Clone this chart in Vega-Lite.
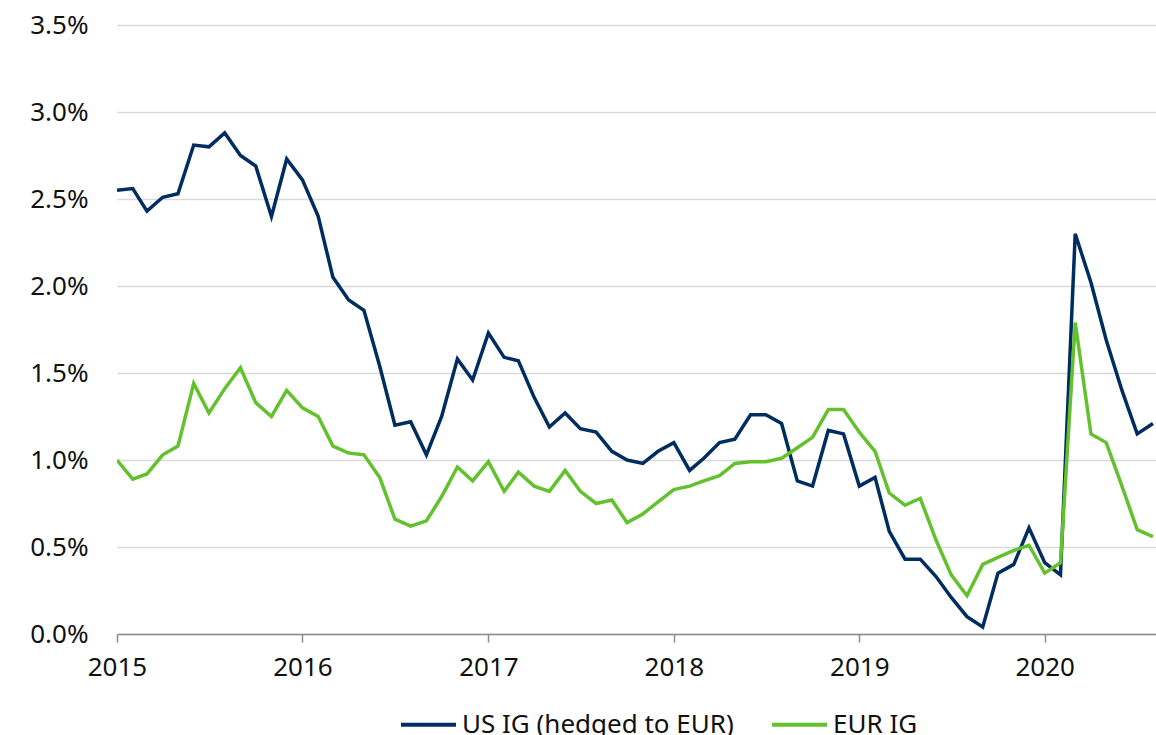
{
  "$schema": "https://vega.github.io/schema/vega-lite/v6.json",
  "width": 1039,
  "height": 609,
  "autosize": {"type": "none"},
  "padding": {"left": 117, "top": 25, "right": 0, "bottom": 101},
  "background": "white",
  "config": {
    "font": "Noto Sans",
    "view": {"stroke": null}
  },
  "datasets": {
    "series": [
      {"date": "2015-01-01", "us": 2.55, "eur": 1.00},
      {"date": "2015-02-01", "us": 2.56, "eur": 0.89},
      {"date": "2015-03-01", "us": 2.43, "eur": 0.92},
      {"date": "2015-04-01", "us": 2.51, "eur": 1.03},
      {"date": "2015-05-01", "us": 2.53, "eur": 1.08},
      {"date": "2015-06-01", "us": 2.81, "eur": 1.44},
      {"date": "2015-07-01", "us": 2.80, "eur": 1.27},
      {"date": "2015-08-01", "us": 2.88, "eur": 1.41},
      {"date": "2015-09-01", "us": 2.75, "eur": 1.53},
      {"date": "2015-10-01", "us": 2.69, "eur": 1.33},
      {"date": "2015-11-01", "us": 2.40, "eur": 1.25},
      {"date": "2015-12-01", "us": 2.73, "eur": 1.40},
      {"date": "2016-01-01", "us": 2.61, "eur": 1.30},
      {"date": "2016-02-01", "us": 2.40, "eur": 1.25},
      {"date": "2016-03-01", "us": 2.05, "eur": 1.08},
      {"date": "2016-04-01", "us": 1.92, "eur": 1.04},
      {"date": "2016-05-01", "us": 1.86, "eur": 1.03},
      {"date": "2016-06-01", "us": 1.54, "eur": 0.90},
      {"date": "2016-07-01", "us": 1.20, "eur": 0.66},
      {"date": "2016-08-01", "us": 1.22, "eur": 0.62},
      {"date": "2016-09-01", "us": 1.03, "eur": 0.65},
      {"date": "2016-10-01", "us": 1.25, "eur": 0.79},
      {"date": "2016-11-01", "us": 1.58, "eur": 0.96},
      {"date": "2016-12-01", "us": 1.46, "eur": 0.88},
      {"date": "2017-01-01", "us": 1.73, "eur": 0.99},
      {"date": "2017-02-01", "us": 1.59, "eur": 0.82},
      {"date": "2017-03-01", "us": 1.57, "eur": 0.93},
      {"date": "2017-04-01", "us": 1.36, "eur": 0.85},
      {"date": "2017-05-01", "us": 1.19, "eur": 0.82},
      {"date": "2017-06-01", "us": 1.27, "eur": 0.94},
      {"date": "2017-07-01", "us": 1.18, "eur": 0.82},
      {"date": "2017-08-01", "us": 1.16, "eur": 0.75},
      {"date": "2017-09-01", "us": 1.05, "eur": 0.77},
      {"date": "2017-10-01", "us": 1.00, "eur": 0.64},
      {"date": "2017-11-01", "us": 0.98, "eur": 0.69},
      {"date": "2017-12-01", "us": 1.05, "eur": 0.76},
      {"date": "2018-01-01", "us": 1.10, "eur": 0.83},
      {"date": "2018-02-01", "us": 0.94, "eur": 0.85},
      {"date": "2018-03-01", "us": 1.01, "eur": 0.88},
      {"date": "2018-04-01", "us": 1.10, "eur": 0.91},
      {"date": "2018-05-01", "us": 1.12, "eur": 0.98},
      {"date": "2018-06-01", "us": 1.26, "eur": 0.99},
      {"date": "2018-07-01", "us": 1.26, "eur": 0.99},
      {"date": "2018-08-01", "us": 1.21, "eur": 1.01},
      {"date": "2018-09-01", "us": 0.88, "eur": 1.07},
      {"date": "2018-10-01", "us": 0.85, "eur": 1.13},
      {"date": "2018-11-01", "us": 1.17, "eur": 1.29},
      {"date": "2018-12-01", "us": 1.15, "eur": 1.29},
      {"date": "2019-01-01", "us": 0.85, "eur": 1.16},
      {"date": "2019-02-01", "us": 0.90, "eur": 1.05},
      {"date": "2019-03-01", "us": 0.59, "eur": 0.81},
      {"date": "2019-04-01", "us": 0.43, "eur": 0.74},
      {"date": "2019-05-01", "us": 0.43, "eur": 0.78},
      {"date": "2019-06-01", "us": 0.33, "eur": 0.54},
      {"date": "2019-07-01", "us": 0.21, "eur": 0.34},
      {"date": "2019-08-01", "us": 0.10, "eur": 0.22},
      {"date": "2019-09-01", "us": 0.04, "eur": 0.40},
      {"date": "2019-10-01", "us": 0.35, "eur": 0.44},
      {"date": "2019-11-01", "us": 0.40, "eur": 0.48},
      {"date": "2019-12-01", "us": 0.61, "eur": 0.51},
      {"date": "2020-01-01", "us": 0.41, "eur": 0.35},
      {"date": "2020-02-01", "us": 0.34, "eur": 0.41},
      {"date": "2020-03-01", "us": 2.30, "eur": 1.79},
      {"date": "2020-04-01", "us": 2.02, "eur": 1.15},
      {"date": "2020-05-01", "us": 1.69, "eur": 1.10},
      {"date": "2020-06-01", "us": 1.40, "eur": 0.85},
      {"date": "2020-07-01", "us": 1.15, "eur": 0.60},
      {"date": "2020-08-01", "us": 1.21, "eur": 0.56}
    ]
  },
  "data": {"name": "series"},
  "transform": [
    {"fold": ["us", "eur"], "as": ["key", "value"]},
    {"calculate": "datum.key === 'us' ? 'US IG (hedged to EUR)' : 'EUR IG'", "as": "series"}
  ],
  "mark": {"type": "line", "strokeWidth": 3.5, "clip": true, "strokeJoin": "miter"},
  "encoding": {
    "x": {
      "field": "date",
      "type": "temporal",
      "scale": {"domain": ["2015-01-01", "2020-08-07"]},
      "axis": {
        "title": null,
        "format": "%Y",
        "tickCount": {"interval": "year", "step": 1},
        "grid": false,
        "domainColor": "#8c8c8c",
        "domainWidth": 1.5,
        "tickColor": "#8c8c8c",
        "tickWidth": 1.5,
        "tickSize": 8,
        "labelFontSize": 26,
        "labelColor": "#111111",
        "labelPadding": 12,
        "labelFlush": false
      }
    },
    "y": {
      "field": "value",
      "type": "quantitative",
      "scale": {"domain": [0, 3.5], "nice": false},
      "axis": {
        "title": null,
        "values": [0, 0.5, 1, 1.5, 2, 2.5, 3, 3.5],
        "labelExpr": "format(datum.value, '.1f') + '%'",
        "domain": false,
        "ticks": false,
        "gridColor": "#d9d9d9",
        "gridWidth": 1.5,
        "labelFontSize": 26,
        "labelColor": "#111111",
        "labelPadding": 29
      }
    },
    "color": {
      "field": "series",
      "type": "nominal",
      "scale": {
        "domain": ["US IG (hedged to EUR)", "EUR IG"],
        "range": ["#002d5f", "#64c12e"]
      },
      "legend": {
        "title": null,
        "orient": "none",
        "legendX": 282,
        "legendY": 670,
        "direction": "horizontal",
        "symbolType": "stroke",
        "symbolSize": 3025,
        "symbolStrokeWidth": 4,
        "labelFontSize": 26,
        "labelLimit": 500,
        "labelColor": "#111111",
        "labelOffset": 4,
        "columnPadding": 30
      }
    }
  }
}
